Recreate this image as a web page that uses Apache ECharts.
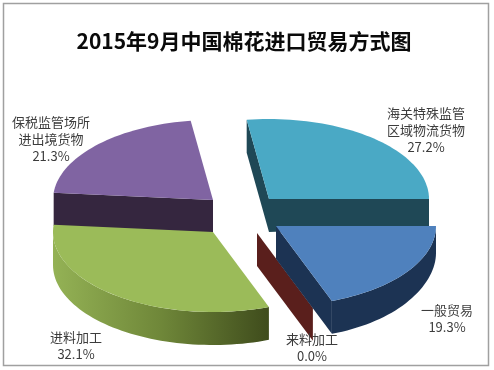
<!DOCTYPE html>
<html><head><meta charset="utf-8">
<style>html,body{margin:0;padding:0;background:#fff}#c{width:494px;height:370px}</style>
<script src="https://cdn.jsdelivr.net/npm/echarts@6/dist/echarts.min.js"></script>
</head><body><div id="c"></div>
<script>
const titleText = '2015年9月中国棉花进口贸易方式图';
const categories = ['一般贸易', '来料加工', '进料加工', '保税监管场所\n进出境货物', '海关特殊监管\n区域物流货物'];
const shares = [19.3, 0.0, 32.1, 21.3, 27.2];
const topColors = ['#4f81bd', '#5a1f1c', '#9bbb59', '#8064a2', '#4aa9c5'];
const wallColors = ['#1c3353', '#5a1f1c', '#3f4c1c', '#35263f', '#1f4856'];

const RX = 160, RY = 80, START = 90;
const centres = [[276,226],[257,233],[213,232],[213,200],[269,199]];
const labelPos = [[447,319],[312,348],[76,346],[51,139],[426,130]];
const layer = [5,4,3,2,1];
// which flat cut faces of each slice can be seen: 's' start cut, 'e' end cut
const cutFaces = ['e','e','','s','se'];
const total = shares.reduce((a,b)=>a+b,0);
const rad = d => d*Math.PI/180;
const depth = t => { const s = Math.sin(rad(t)); return s>0 ? 33-6*Math.pow(s,4) : 33; };

function arcPts(c,a0,a1){
  const n = Math.max(1,Math.ceil((a1-a0)/2)), p=[];
  for(let i=0;i<=n;i++){ const t=a0+(a1-a0)*i/n; p.push([c[0]+RX*Math.sin(rad(t)), c[1]-RY*Math.cos(rad(t)), t]); }
  return p;
}
function poly(points,fill,z2){
  return {type:'polygon',z2,shape:{points:points.map(q=>[q[0],q[1]])},style:{fill,stroke:null}};
}
function renderItem(params,api){
  const i = params.dataIndex, v = api.value(0);
  let before = 0; for(let k=0;k<i;k++) before += shares[k];
  const a0 = START+before/total*360, a1 = a0+v/total*360;
  const c = centres[i], z = layer[i]*10, kids = [];
  const top = arcPts(c,a0,a1);
  const apexB = [c[0],c[1]+33];
  const down = p => [p[0],p[1]+depth(p[2])];
  const first = top[0], last = top[top.length-1];
  // flat cut faces
  const faces = cutFaces[i];
  if(faces.includes('s')) kids.push(poly([c,first,down(first),apexB],wallColors[i],z));
  if(faces.includes('e')) kids.push(poly([c,last,down(last),apexB],wallColors[i],z));
  // curved outer wall, front half only
  const lo = Math.max(a0,90), hi = Math.min(a1,270);
  if(hi>lo){
    const w = arcPts(c,lo,hi);
    const shape = w.concat(w.slice().reverse().map(p=>{const d=down(p);return [d[0],d[1],p[2]];}));
    const fill = (hi-lo)>90 ? new echarts.graphic.LinearGradient(0,0,1,0,[
      {offset:0,color:'#94b255'},{offset:0.5,color:'#6f8739'},{offset:1,color:'#3f4c1c'}]) : wallColors[i];
    kids.push(poly(shape,fill,z+1));
  }
  // top face
  if(v>0) kids.push(poly([c].concat(top),topColors[i],z+2));
  // label
  const lp = labelPos[i];
  kids.push({type:'text',z2:200,style:{
    x:lp[0],y:lp[1],text:categories[i]+'\n'+v.toFixed(1)+'%',
    align:'center',verticalAlign:'middle',
    font:'13px "Noto Sans CJK SC", sans-serif',lineHeight:17,fill:'#3c3c3c'}});
  return {type:'group',children:kids};
}
const chart = echarts.init(document.getElementById('c'),null,{renderer:'canvas'});
chart.setOption({
  animation:false,
  backgroundColor:'#fff',
  title:{text:titleText,top:26,left:239,textAlign:'center',
    textStyle:{fontFamily:'"Noto Sans CJK SC", sans-serif',fontSize:21,fontWeight:'bold',color:'#0a0a0a'}},
  graphic:[{type:'rect',shape:{x:3.5,y:3.5,width:485,height:362},z:-1,
    style:{fill:'#fff',stroke:'#a0a0a0',lineWidth:1.5}}],
  series:[{type:'custom',coordinateSystem:'none',renderItem,
    data:shares.map((v,i)=>({value:[v],name:categories[i]}))}]
});
</script></body></html>
